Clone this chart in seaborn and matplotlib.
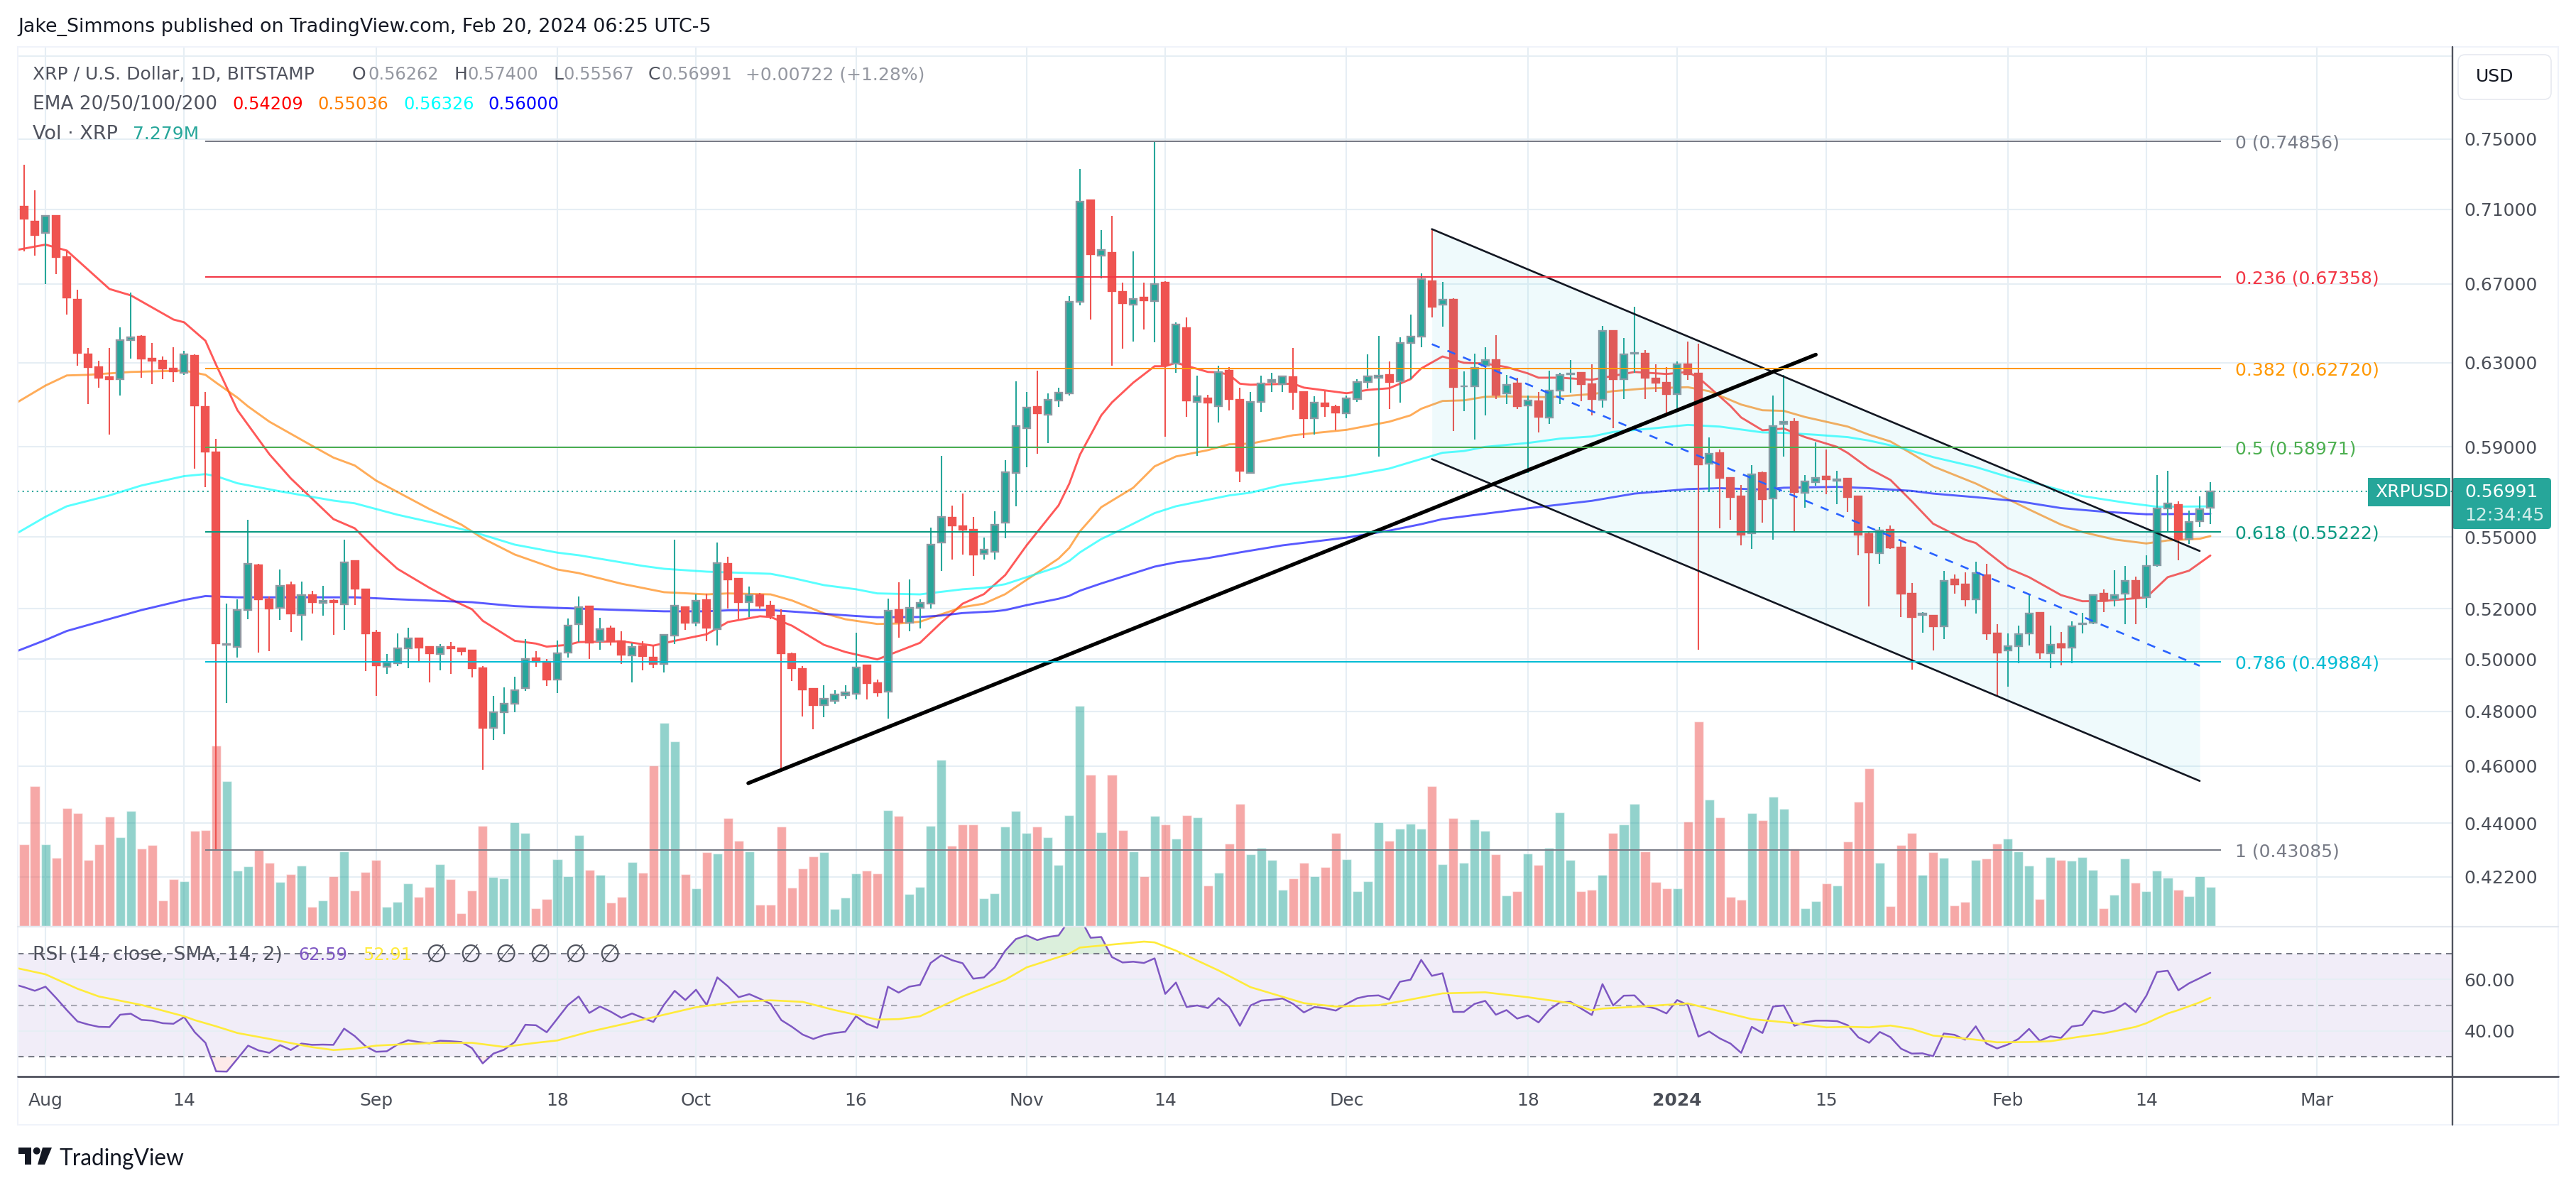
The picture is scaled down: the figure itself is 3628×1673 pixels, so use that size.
import numpy as np
import pandas as pd
import matplotlib.pyplot as plt
import seaborn as sns
from matplotlib.patches import Rectangle, FancyBboxPatch, Polygon, Circle

# daily candles, day 0 = 1 Aug 2023, first candle is 30 Jul
first_day = -2
opens = [.7115,.7035,.697,.7065,.684,.6617,.6342,.628,.623,.622,.6413,.643,.632,.631,.627,.625,.6335,.6088,.5874,.5057,
         .5049,.5195,.538,.5239,.5205,.5297,.5176,.5256,.5223,.5233,.5219,.5398,.528,.5104,.497,.4984,.5042,.5081,.5048,.5021,
         .5048,.5042,.5034,.4965,.4739,.4798,.483,.4888,.5003,.499,.4921,.5025,.5138,.5209,.5069,.5121,.507,.5015,.505,.5006,
         .4981,.5093,.5207,.5144,.5236,.5118,.5386,.5324,.5226,.5256,.5212,.5172,.502,.4962,.4886,.4825,.484,.4862,.4867,.4975,
         .4908,.4875,.5195,.5145,.5203,.522,.5475,.5584,.5547,.553,.5428,.5437,.5562,.5781,.5987,.6087,.6051,.6118,.6152,.6607,
         .715,.6848,.6865,.6658,.6592,.6627,.6612,.6705,.6297,.6473,.6112,.6126,.6091,.626,.6121,.5781,.6111,.6205,.6194,.6229,
         .6158,.6034,.6104,.6088,.6056,.6124,.6206,.6227,.6239,.621,.6398,.6431,.6714,.6592,.6616,.6184,.6186,.6285,.6315,.6151,
         .6199,.6093,.6113,.6035,.6164,.6243,.6252,.6196,.6121,.646,.6219,.6346,.6344,.6222,.6202,.6148,.6293,.6246,.5822,.5871,
         .5759,.5678,.5516,.578,.5667,.6007,.6015,.5693,.5739,.5764,.5746,.5755,.5677,.5512,.5431,.553,.5455,.5263,.5176,.5173,
         .5131,.532,.53,.5239,.5338,.5102,.5035,.5052,.5102,.5183,.5023,.5058,.5045,.5137,.5145,.5261,.5239,.5261,.5316,.5247,
         .538,.5625,.564,.5491,.5568,.56262]
highs = [.735,.7205,.707,.707,.687,.667,.6374,.631,.6374,.6477,.6655,.6437,.6398,.633,.6378,.636,.634,.6158,.5938,.522,
         .5239,.5574,.5386,.525,.5362,.5312,.5312,.5274,.5295,.5239,.5488,.5401,.5283,.5115,.5021,.5101,.5124,.5081,.505,.5059,
         .5067,.5042,.5036,.4973,.486,.4891,.4932,.5078,.5031,.5001,.5072,.5162,.525,.5212,.5164,.5132,.5109,.5062,.507,.5053,
         .5097,.5488,.521,.5259,.5263,.5476,.5416,.5327,.5292,.5265,.5233,.5198,.5025,.4973,.4888,.4899,.4881,.49,.5105,.4975,
         .492,.5242,.531,.532,.524,.5541,.586,.5637,.569,.5587,.5497,.5612,.5839,.6209,.6158,.6262,.6152,.6179,.6637,.7327,
         .715,.6986,.7063,.6705,.687,.6705,.7486,.6715,.6503,.6527,.6238,.6145,.6287,.628,.6179,.6158,.6236,.625,.6235,.6374,
         .6163,.6138,.6162,.6097,.6141,.6221,.634,.6433,.6305,.6427,.6542,.6756,.6995,.671,.6625,.6259,.6344,.6378,.6438,.6242,
         .6226,.614,.6158,.626,.625,.6314,.6252,.6293,.6483,.6463,.6424,.658,.6363,.6294,.6277,.6307,.6406,.6395,.5943,.5887,
         .5759,.5728,.5817,.5788,.6141,.6241,.6033,.5772,.592,.5887,.579,.5755,.5678,.5526,.5542,.5548,.5487,.5307,.5186,.5174,
         .5355,.534,.5349,.5394,.5386,.5139,.51,.5133,.5262,.5185,.5133,.5106,.515,.5185,.526,.5279,.5359,.5377,.5332,.5423,
         .5772,.5791,.5655,.5613,.5676,.574]
lows = [.687,.685,.67,.675,.654,.6284,.61,.618,.5958,.614,.632,.6226,.6195,.622,.6205,.624,.58,.5718,.43085,.4833,
        .5007,.5158,.5026,.5031,.5155,.5107,.5072,.518,.5172,.5095,.5115,.5215,.4954,.4858,.4943,.4973,.4965,.4987,.4909,.4957,
        .4943,.5015,.4928,.4587,.4695,.4716,.4797,.4877,.4969,.4897,.487,.5005,.5067,.5001,.5038,.5053,.4981,.491,.4957,.4965,
        .4947,.5059,.5115,.513,.507,.5053,.52,.5158,.5167,.52,.5157,.4585,.4916,.4782,.4733,.4779,.483,.4848,.4845,.4845,
        .4857,.4773,.5085,.511,.512,.52,.5356,.5405,.5426,.5336,.5405,.5405,.5494,.5632,.5807,.5869,.5917,.6087,.6141,.659,
        .6515,.6727,.6285,.6368,.6404,.6465,.64,.5948,.6252,.6039,.586,.5898,.6014,.6069,.5739,.5781,.6064,.6157,.6158,.6075,
        .5942,.5958,.6041,.5978,.6033,.6111,.6174,.5854,.6078,.6106,.6219,.6378,.6528,.648,.5974,.6067,.5933,.6047,.6123,.6101,
        .6078,.578,.5968,.6005,.61,.6156,.6114,.6047,.6085,.5988,.6124,.625,.6123,.6158,.6057,.6079,.6216,.5038,.5697,.5537,
        .5575,.5463,.5448,.5562,.5488,.5855,.5519,.5628,.5725,.5685,.5642,.5607,.5423,.521,.5386,.5448,.5168,.4958,.5105,.5035,
        .508,.5262,.521,.5181,.5075,.4855,.4894,.4985,.5053,.5002,.4965,.4977,.4985,.5102,.5139,.5188,.521,.5139,.5139,.5203,
        .5374,.5526,.54,.5471,.5542,.55567]
closes = [.705,.696,.7065,.684,.663,.6349,.628,.6226,.622,.6413,.6427,.632,.631,.627,.6258,.634,.6095,.5879,.5063,.506,
          .5195,.5386,.5239,.52,.5295,.5181,.5255,.5227,.5233,.5227,.5392,.5281,.5101,.4976,.4987,.5041,.5081,.5046,.5024,.5048,
          .5042,.5031,.4965,.4739,.4798,.483,.4881,.5001,.499,.4921,.5024,.5133,.5208,.5064,.5118,.507,.5018,.5049,.5013,.498,
          .5095,.5213,.5145,.5234,.5124,.5389,.5321,.5226,.5255,.5212,.5172,.5024,.4966,.4883,.4825,.4848,.4864,.4873,.4967,.4908,
          .4873,.5192,.5147,.5203,.5224,.5466,.5587,.555,.553,.5425,.5445,.5553,.5785,.5995,.6085,.6057,.6121,.6155,.6607,.7145,
          .6855,.6878,.666,.66,.6621,.6615,.67,.6288,.649,.6117,.6136,.6106,.6255,.6125,.579,.6111,.6199,.6216,.6232,.6157,
          .6034,.6106,.6089,.6059,.6126,.6206,.6232,.6236,.6207,.6399,.6431,.6726,.658,.6617,.6181,.6187,.6274,.6313,.6146,.6192,
          .6091,.6118,.6041,.6166,.624,.6248,.6194,.6123,.6457,.6219,.6343,.635,.6226,.6203,.6148,.6294,.6243,.5821,.5869,.5758,
          .5675,.5508,.5775,.5663,.5997,.6015,.5697,.5742,.5758,.5752,.5752,.5675,.5508,.5434,.5529,.5454,.5263,.5168,.5181,.5129,
          .5315,.53,.5238,.5348,.5102,.5025,.5052,.5099,.5181,.5025,.5057,.5045,.5129,.514,.5256,.5233,.5257,.5315,.5244,.5377,
          .5625,.5646,.5491,.5565,.5621,.56991]
volume = [15.2,26.0,15.2,12.6,21.9,21.0,12.2,15.2,20.3,16.5,21.3,14.3,15.0,4.7,8.7,8.3,17.7,17.8,33.4,26.9,
          10.3,11.1,14.2,11.7,8.2,9.6,11.2,3.6,4.8,9.2,13.9,6.6,10.0,12.2,3.6,4.5,7.9,5.4,7.3,11.5,
          8.7,2.4,6.6,18.6,9.1,8.8,19.2,17.2,3.3,5.0,12.4,9.2,16.9,10.4,9.5,4.4,5.4,11.9,9.9,29.8,
          37.6,34.3,9.6,7.0,13.7,13.4,20.0,15.8,13.9,4.0,4.0,18.5,7.1,10.7,12.9,13.7,3.2,5.3,9.8,10.3,
          9.8,21.5,20.4,6.0,7.3,18.6,30.8,14.9,18.8,18.8,5.2,6.1,18.4,21.3,17.3,18.4,16.5,11.3,20.5,40.8,
          28.0,17.4,28.1,17.8,13.9,9.2,20.4,18.9,16.2,20.6,20.1,7.5,9.9,15.3,22.6,13.3,14.5,12.2,6.7,8.8,
          11.7,9.2,10.9,17.3,12.4,6.4,8.3,19.2,15.8,18.1,19.0,18.1,25.9,11.5,20.0,11.7,19.7,17.7,13.3,5.7,
          6.4,13.4,11.3,14.5,21.1,12.2,6.5,6.7,9.5,17.2,18.8,22.6,13.9,8.2,7.0,7.0,19.4,37.9,23.5,20.1,
          5.4,4.9,21.0,19.6,24.0,21.8,14.4,3.3,4.6,7.9,7.5,15.7,23.0,29.2,11.7,3.7,15.0,17.2,9.5,13.7,
          12.6,3.8,4.5,12.2,12.5,15.3,16.2,13.9,11.2,5.0,12.8,12.2,12.1,12.8,10.4,3.3,5.8,12.5,8.1,6.5,
          10.3,9.0,6.7,5.6,9.2,7.279]

# moving averages, read at the kinks of each line
ema20_days = [-3,0,2,6,8,12,13,15,16,18,21,23,27,29,31,33,36,38,40,41,44,46,47,49,50,54,57,59,62,64,67,68,70,73,75,78,82,84,86,88,90,92,95,96,97,99,100,102,104,105,106,109,110,111,112,113,117,118,122,124,126,128,129,131,133,135,137,139,140,142,145,149,152,154,155,156,158,159,161,163,165,168,169,171,173,175,177,180,181,184,186,189,191,193,197,199,201,203]
ema20 = [.6876,.6908,.6876,.6673,.664,.6516,.6502,.6409,.629,.6071,.5866,.5757,.5577,.5537,.5446,.5365,.5286,.5239,.5198,.5152,.5072,.5061,.5049,.5056,.5067,.507,.5053,.5072,.5098,.5147,.517,.5167,.5132,.5056,.5028,.4999,.5064,.5145,.5221,.526,.5339,.5464,.5637,.5733,.5864,.6047,.6108,.6203,.6283,.6283,.63,.6255,.6253,.6241,.6198,.6193,.6198,.6179,.6152,.6168,.6176,.622,.6272,.6331,.63,.6296,.6279,.6248,.6227,.6227,.6217,.6255,.6245,.6255,.6227,.6182,.6091,.6037,.5977,.5985,.5945,.59,.5872,.5801,.575,.5655,.5557,.5488,.5474,.5368,.533,.5256,.5231,.5232,.5247,.533,.5357,.54209]
ema50_days = [-3,0,2,4,8,13,15,16,18,19,21,25,27,29,31,36,39,41,44,48,50,54,58,62,64,68,70,73,75,78,80,82,84,86,88,90,92,95,96,97,99,102,104,106,109,111,113,117,122,126,128,129,131,133,135,137,141,145,147,150,154,156,159,161,163,165,169,171,173,175,177,181,186,189,191,194,197,199,202,203]
ema50 = [.6098,.6189,.6238,.6241,.6255,.6262,.6241,.6203,.6131,.6089,.6017,.5905,.5851,.5815,.5747,.5621,.5553,.5494,.5425,.5362,.5347,.5303,.5268,.5259,.5263,.5259,.5234,.5182,.5158,.5139,.5141,.5148,.5178,.5207,.5221,.526,.5319,.5408,.5453,.5524,.5629,.5715,.5811,.5856,.5885,.5912,.5915,.5954,.5979,.6017,.6047,.6078,.6115,.6118,.6135,.6137,.6133,.6148,.6162,.6175,.6181,.6162,.6098,.6071,.6068,.6039,.5994,.5956,.5925,.5869,.5811,.5734,.5619,.5553,.5521,.5489,.5472,.5485,.5492,.55036]
ema100_days = [-3,0,2,6,9,13,15,16,18,22,27,29,33,36,40,44,48,50,56,58,62,68,70,73,76,78,82,86,88,90,92,95,96,97,99,101,104,106,111,113,116,122,126,128,131,133,135,139,142,145,147,151,154,157,161,163,166,169,171,174,177,181,184,187,191,195,198,203]
ema100 = [.5507,.5587,.5633,.5681,.5725,.5767,.5776,.5767,.5735,.5699,.5658,.5646,.5596,.5565,.5523,.5467,.5433,.5422,.5377,.5365,.5353,.5344,.5327,.5297,.528,.5263,.5259,.528,.5286,.5301,.533,.5374,.5398,.5434,.5491,.5534,.5603,.5633,.5681,.5693,.5728,.5766,.5801,.583,.5873,.5881,.59,.5918,.5938,.5948,.5969,.5987,.6002,.5994,.5967,.5965,.5956,.5945,.5929,.5896,.5853,.5808,.5764,.573,.5678,.5649,.5631,.56326]
ema200_days = [-3,0,2,6,9,13,15,18,22,29,33,40,44,48,54,58,62,64,68,71,76,78,82,84,86,89,90,92,95,96,97,99,104,106,109,112,116,122,126,129,131,139,145,149,154,157,161,163,168,171,175,177,181,185,189,193,197,203]
ema200 = [.5026,.5075,.5111,.5159,.5195,.5236,.5252,.5247,.5247,.5247,.5239,.5227,.5211,.5204,.5195,.519,.519,.5194,.5195,.5186,.5171,.5166,.5167,.5173,.5183,.519,.5195,.5215,.5241,.5253,.5274,.5304,.5374,.5392,.541,.5434,.5464,.5497,.5527,.5555,.5577,.5624,.5657,.5689,.5709,.5713,.5707,.5715,.5719,.5713,.5701,.5689,.5673,.5655,.5625,.5609,.5598,.56]

# rsi starts one day left of the first candle, under the pane edge
rsi_first_day = -3
rsi = [58.2,57,55.6,57.2,52.8,48.1,43.7,42.5,41.6,41.5,46.3,46.7,44.3,44,43,42.8,45.4,39.5,35.4,24.3,
       24.2,29.2,34.3,32.4,31.5,34.5,32.6,35.1,34.6,34.7,34.6,40.9,38,34.1,31.9,32.1,34.7,36.4,35.7,35.2,
       36.2,36,35.7,33.3,27.4,31.2,32.7,35.7,42.4,42.2,39.5,44.8,50.1,53.4,47,49.5,47.5,45.1,46.8,45.1,
       43.5,50.2,55.6,52,56,50.1,60.8,57.3,53.1,54.3,52.5,50.5,44.2,41.6,38.6,36.9,38.4,39.2,39.7,45.7,
       42.8,41.2,57.2,54.9,57.2,57.9,66.4,69.4,67.5,66.3,60.3,60.8,64.7,71.2,75.7,77.1,75.3,76.5,77.1,83,
       84,76.2,76.5,68.7,66.6,66.9,66.4,68.2,54.4,58.8,49.3,49.9,48.9,52.8,49.3,42,49.9,51.8,52.1,52.6,
       50.5,47.2,49.3,48.8,47.9,50.5,52.7,53.6,53.8,52.2,59.1,59.9,67.6,61.4,62.4,47.4,47.4,50.5,51.7,46.3,
       48.1,44.8,46,43.3,48.2,51.1,51.3,48.7,46.2,58.2,49.9,53.7,53.8,49.6,48.7,46.8,52,50.1,37.8,39.8,
       37.1,35.1,31.5,41.6,39.2,49.5,49.9,42,43.4,44,44,43.8,42.2,37.5,35.4,39.6,37.6,33.1,31.2,31.3,
       30.2,39,38.5,36.6,41.8,35.1,33.2,34.7,36.9,40.8,36.2,37.9,37.3,41.7,42.3,47.9,47,48,50.8,47.3,
       53.7,62.9,63.4,55.8,58.5,60.5,62.59]
rsi_ma_days = [-3,0,3,5,9,13,14,16,18,21,25,27,29,31,36,40,43,46,48,51,55,58,61,65,68,71,74,76,78,80,82,86,90,92,96,97,103,104,106,110,113,118,121,125,128,131,135,139,143,145,146,150,154,160,164,167,169,171,173,175,177,179,181,183,186,188,191,193,196,197,199,200,202,203]
rsi_ma = [64.7,62,56.4,53.4,50.1,45.7,44.2,41.8,39.2,36.9,33.7,32.6,33.1,34.3,35.3,35.4,33.8,35.4,36.3,39.7,43.4,46.3,49.2,51.4,51.9,51.3,48.1,46.3,44.4,44.6,45.7,53.4,59.9,64.7,70,72.4,74.7,74.4,71.2,63.5,57,50.8,49.5,50,52.2,54.6,55,53.1,50.8,48,48.7,49.6,50.7,44.6,43,41.4,41.6,41.4,42.1,40.8,38.2,37.5,36.6,35.6,35.7,36,37.9,39,41.6,43,46.8,48.1,51.1,52.91]

# fibonacci retracement
fib_ratios = ["0","0.236","0.382","0.5","0.618","0.786","1"]
fib_levels = [.74856,.67358,.6272,.58971,.55222,.49884,.43085]
fib_colors = ["#787B86","#F23645","#FF9800","#4CAF50","#089981","#00BCD4","#787B86"]
fib_days = [15,204]

# drawn channel and trend line
channel_days = [130,202]
channel_top = [.6992,.544]
channel_mid = [.6392,.4974]
channel_low = [.5844,.4547]
trend_days = [65.9,166]
trend_vals = [.4539,.634]

last_price = .56991

price_ticks = [.8,.75,.71,.67,.63,.59,.55,.52,.5,.48,.46,.44,.422]
price_labels = ["","0.75000","0.71000","0.67000","0.63000","0.59000","0.55000","0.52000","0.50000","0.48000","0.46000","0.44000","0.42200"]
tick_days = [0,13,31,48,61,76,92,105,122,139,153,167,184,197,213]
tick_labels = ["Aug","14","Sep","18","Oct","16","Nov","14","Dec","18","2024","15","Feb","14","Mar"]

W, H = 3628, 1673
GREEN, RED = "#26A69A", "#EF5350"
GRID = "#E6EEF4"
TXT = "#4A4E57"
FS = 18

sns.set_theme(style="white")
plt.rcParams['font.family'] = ['DejaVu Sans']


def pane(top, bottom, z):
    a = fig.add_axes([25/W, 1-bottom/H, (3454-25)/W, (bottom-top)/H], zorder=z)
    a.patch.set_visible(False)
    for s in a.spines.values():
        s.set_visible(False)
    return a


days = np.arange(first_day, first_day+len(closes))
o, h, l, c = map(np.array, (opens, highs, lows, closes))
up = c >= o
xlim = (-2.6, 225.7)
ylim_price = (.40585, .80597)

fig = plt.figure(figsize=(W/100, H/100), dpi=100, facecolor="white")

grid_ax = pane(66, 1305, 1)
vol_ax = pane(66, 1305, 2)
ax = pane(66, 1305, 3)
rsi_ax = pane(1305, 1516, 4)

# grid and price scale live on the bottom axes so the volume sits over them
grid_ax.set_yscale("log")
grid_ax.set_xlim(xlim)
grid_ax.set_ylim(ylim_price)
grid_ax.yaxis.tick_right()
grid_ax.minorticks_off()
grid_ax.set_yticks(price_ticks, labels=price_labels)
grid_ax.set_xticks(tick_days, labels=[""]*len(tick_days))
grid_ax.tick_params(axis="y", length=0, pad=12, labelsize=FS, labelcolor=TXT)
grid_ax.tick_params(axis="x", length=0)
grid_ax.grid(True, color=GRID, lw=1.5)

# volume
vol_df = pd.DataFrame({"day": days, "volume": volume, "side": np.where(up, "up", "down")})
sns.barplot(data=vol_df, x="day", y="volume", hue="side", palette={"up": GREEN, "down": RED},
            native_scale=True, dodge=False, width=.87, saturation=1, alpha=.5, legend=False, ax=vol_ax)
vol_ax.set_xlim(xlim)
vol_ax.set_ylim(-.12, 163)
vol_ax.set_xticks([])
vol_ax.set_yticks([])
vol_ax.set_xlabel("")
vol_ax.set_ylabel("")

# price pane
ax.set_yscale("log")
for d, v, col in [(ema20_days, ema20, "#FF0000"), (ema50_days, ema50, "#FF8000"),
                  (ema100_days, ema100, "#00FFFF"), (ema200_days, ema200, "#0000FF")]:
    sns.lineplot(x=d, y=v, color=col, lw=2.1, alpha=.65, estimator=None, errorbar=None, ax=ax, zorder=2)

ax.axhline(last_price, color=GREEN, lw=1.5, ls=(0, (1, 2.2)), zorder=1)
wick_cols = [GREEN if u else RED for u in up]
ax.vlines(days, l, h, colors=wick_cols, lw=1.5, zorder=3)
ax.bar(days, np.abs(c-o), bottom=np.minimum(o, c), width=.67,
       color=wick_cols, edgecolor=["#8F98A1" if u else RED for u in up], linewidth=1.7, zorder=4)

ax.fill_between(channel_days, channel_low, channel_top, color="#26C6DA", alpha=.07, lw=0, zorder=5)
ax.plot(channel_days, channel_top, color="#131722", lw=1.9, zorder=6)
ax.plot(channel_days, channel_low, color="#131722", lw=1.9, zorder=6)
ax.plot(channel_days, channel_mid, color="#2962FF", lw=1.9, ls=(0, (4.5, 4.5)), zorder=6)
ax.plot(trend_days, trend_vals, color="black", lw=3.8, solid_capstyle="round", zorder=6)
ax.hlines(fib_levels, fib_days[0], fib_days[1], colors=fib_colors, lw=1.45, zorder=6)
for ratio, lev, col in zip(fib_ratios, fib_levels, fib_colors):
    ax.text(205.3, lev, f"{ratio} ({lev:.5f})", color=col, fontsize=FS, va="center_baseline", ha="left", zorder=7)

ax.set_xlim(xlim)
ax.set_ylim(ylim_price)
ax.set_xticks([])
ax.minorticks_off()
ax.set_yticks([])
ax.set_xlabel("")
ax.set_ylabel("")

# rsi pane
rsi_days = np.arange(rsi_first_day, rsi_first_day+len(rsi))
rsi_arr = np.array(rsi)
rsi_ax.axhspan(30, 70, color="#7E57C2", alpha=.1, lw=0, zorder=0)
rsi_ax.set_xticks(tick_days, labels=tick_labels)
rsi_ax.set_yticks([60, 40], labels=["60.00", "40.00"])
rsi_ax.yaxis.tick_right()
rsi_ax.tick_params(axis="y", length=0, pad=12, labelsize=FS, labelcolor=TXT)
rsi_ax.tick_params(axis="x", length=0, pad=16, labelsize=FS, labelcolor=TXT)
rsi_ax.grid(True, color=GRID, lw=1.5, zorder=0)
rsi_ax.set_axisbelow(True)
for t in rsi_ax.get_xticklabels():
    if t.get_text() == "2024":
        t.set_fontweight("bold")
rsi_ax.fill_between(rsi_days, 70, rsi_arr, where=rsi_arr > 70, interpolate=True, color="#4CAF50", alpha=.2, lw=0)
rsi_ax.fill_between(rsi_days, 30, rsi_arr, where=rsi_arr < 30, interpolate=True, color="#EF5350", alpha=.12, lw=0)
for lev, al in [(70, 1), (50, .6), (30, 1)]:
    rsi_ax.axhline(lev, color="#787B86", lw=1.5, ls=(0, (4, 3.2)), alpha=al)
sns.lineplot(x=rsi_days, y=rsi_arr, color="#7E57C2", lw=1.8, estimator=None, errorbar=None, ax=rsi_ax, zorder=3)
sns.lineplot(x=rsi_ma_days, y=rsi_ma, color="#FFEB3B", lw=1.9, estimator=None, errorbar=None, ax=rsi_ax, zorder=4)
rsi_ax.set_xlim(xlim)
rsi_ax.set_ylim(22.3, 80.5)
rsi_ax.set_xlabel("")
rsi_ax.set_ylabel("")

# chrome on a full-figure overlay, pixel coordinates
ui = fig.add_axes([0, 0, 1, 1], zorder=10)
ui.set_xlim(0, W)
ui.set_ylim(H, 0)
ui.axis("off")
ui.patch.set_visible(False)
ui.add_patch(Rectangle((25, 66), 3578, 1518, fill=False, ec="#F0F3FA", lw=1.5))
ui.plot([25, 3454], [1305, 1305], color="#E3E8EF", lw=1.6)
ui.plot([3454, 3603], [1305, 1305], color="#E3E8EF", lw=1.6)
ui.plot([25, 3603], [1516, 1516], color="#50535E", lw=2)
ui.plot([3454, 3454], [66, 1584], color="#50535E", lw=1.7)


def label(x, y, s, col="#50535E", fs=FS, **kw):
    return ui.text(x, y, s, color=col, fontsize=fs, va="center", ha=kw.pop("ha", "left"), **kw)


label(25, 38, "Jake_Simmons published on TradingView.com, Feb 20, 2024 06:25 UTC-5", "#131722", fs=19.4)
label(46, 105, "XRP / U.S. Dollar, 1D, BITSTAMP")
VAL = "#9598A1"
for x1, x2, name, val in [(496, 518, "O", "0.56262"), (639, 658, "H", "0.57400"),
                          (779, 793, "L", "0.55567"), (913, 931, "C", "0.56991")]:
    label(x1, 105, name)
    label(x2, 105, val, VAL, fs=17.3)
label(1050, 105, "+0.00722 (+1.28%)", VAL)
label(46, 147, "EMA 20/50/100/200", fs=19)
for x, val, col in [(327, "0.54209", "#FF0000"), (447, "0.55036", "#FF8000"), (568, "0.56326", "#00FFFF"), (687, "0.56000", "#0000FF")]:
    label(x, 147, val, col, fs=17.3)
label(46, 189, "Vol · XRP", fs=19.5)
label(187, 189, "7.279M", GREEN)

label(46, 1345, "RSI (14, close, SMA, 14, 2)", fs=19.2)
label(420, 1345, "62.59", "#7E57C2", fs=17.3)
label(511, 1345, "52.91", "#FFEB3B", fs=17.3)
for x in [615, 663, 712, 761, 810, 859]:
    label(x, 1345, "∅", ha="center", fs=25)

ui.add_patch(FancyBboxPatch((3462, 77), 131, 63, boxstyle="round,pad=0,rounding_size=10", fc="white", ec="#E6E9F0", lw=1.2))
label(3487, 108, "USD", "#131722")

ui.add_patch(Rectangle((3335, 673), 116, 40, fc=GREEN, lw=0))
ui.add_patch(FancyBboxPatch((3453, 673), 140, 72, boxstyle="round,pad=0,rounding_size=5", fc=GREEN, lw=0))
label(3345, 693, "XRPUSD", "white")
label(3471, 693, "0.56991", "white")
label(3471, 726, "12:34:45", "#D3EEEB")

# logo
ui.add_patch(Polygon([(25.7, 1616), (44.3, 1616), (44.3, 1640), (35, 1640), (35, 1625), (25.7, 1625)], fc="#131722", lw=0))
ui.add_patch(Circle((51.7, 1620.7), 5, fc="#131722", lw=0))
ui.add_patch(Polygon([(60, 1616), (73, 1616), (63, 1640), (53, 1640)], fc="#131722", lw=0))
logo = ui.text(83, 1632, "TradingView", color="#131722", fontsize=24, va="center", family="Lato")
fig.canvas.draw()
logo.set_fontsize(24*176/logo.get_window_extent().width)

fig.savefig("out.png", dpi=100, facecolor="white")
